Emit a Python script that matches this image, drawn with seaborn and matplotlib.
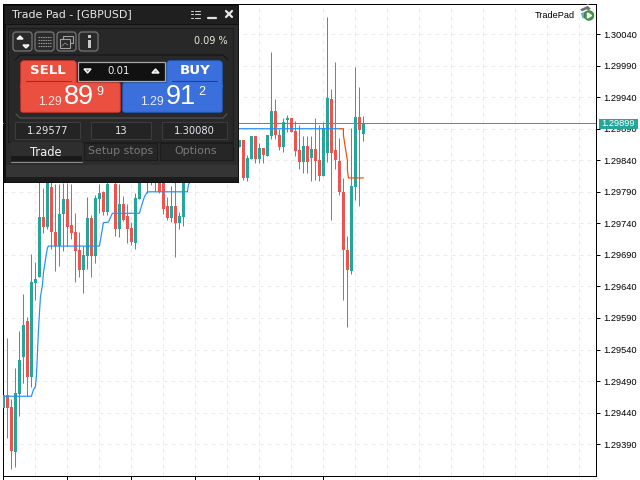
import numpy as np
import pandas as pd
import matplotlib
matplotlib.use("Agg")
import matplotlib.pyplot as plt
import seaborn as sns
from matplotlib.patches import Rectangle, FancyBboxPatch, Polygon, Circle

# candle data, prices in points above 1.29000 (bars 46-58 sit behind the panel)
bars = list(range(46)) + list(range(59, 91))
sides = list("GRRGGGRGGG" "RGRRGGRRRR" "GGRGGRGRRG" "RRRGGGGRGR" "RRGRGG"
             "GRGGRGRG" "GRRGGRRRGR" "GRRGGRRRRR" "GGRG")
body_top = [468, 468, 449, 471, 523, 579, 585, 647, 652, 750,
            750, 817, 798, 726, 755, 779, 779, 737, 726, 698,
            690, 748, 748, 780, 788, 790, 802, 840, 802, 771,
            771, 752, 733, 780, 804, 832, 825, 825, 825, 825,
            817, 767, 767, 767, 752, 817,
            872, 872, 844, 878, 878, 859, 859, 880,
            918, 918, 880, 901, 907, 907, 886, 856, 863, 863,
            858, 858, 840, 891, 939, 937, 856, 839, 790, 698,
            799, 909, 909, 897]
body_bot = [447, 447, 379, 378, 469, 528, 496, 496, 645, 655,
            734, 734, 726, 704, 704, 755, 734, 725, 696, 666,
            666, 688, 688, 688, 779, 758, 758, 817, 731, 731,
            745, 731, 710, 709, 779, 812, 809, 809, 809, 790,
            763, 748, 748, 741, 741, 750,
            861, 812, 812, 842, 842, 842, 848, 847,
            878, 880, 861, 861, 904, 885, 855, 837, 837, 837,
            844, 839, 815, 815, 851, 851, 840, 790, 698, 666,
            664, 798, 888, 882]
high_pts = [468, 558, 462, 511, 569, 628, 592, 691, 679, 825,
            796, 832, 825, 802, 802, 804, 804, 802, 756, 726,
            704, 782, 753, 785, 802, 791, 825, 856, 825, 802,
            783, 771, 742, 788, 832, 848, 840, 840, 840, 840,
            832, 782, 799, 817, 758, 832,
            872, 872, 848, 878, 878, 867, 859, 880,
            1012, 937, 890, 907, 912, 907, 902, 896, 878, 878,
            878, 907, 896, 901, 1067, 953, 996, 875, 812, 720,
            891, 988, 956, 910]
low_pts = [447, 400, 351, 354, 435, 487, 466, 481, 619, 655,
           725, 731, 699, 664, 672, 696, 704, 715, 647, 655,
           630, 668, 655, 677, 756, 753, 753, 806, 720, 718,
           744, 709, 706, 699, 779, 806, 788, 801, 791, 788,
           755, 745, 742, 687, 731, 736,
           861, 809, 807, 842, 836, 836, 836, 847,
           874, 874, 856, 853, 885, 885, 847, 826, 820, 820,
           807, 809, 807, 815, 837, 745, 826, 785, 618, 576,
           660, 777, 767, 871]

# stop lines
blue_x = [0, 7, 7.5, 8, 8.25, 8.5, 8.75, 9.25, 9.75, 10, 10.5, 11, 11.25, 24, 24.5, 25, 26.25, 27.25, 34, 34.75,
          35.25, 36, 46, 46.25, 50, 58.75, 84]
blue_pts = [466, 466, 476, 481, 498, 533, 569, 623, 642, 661, 682, 701, 704, 704, 722, 741, 742, 756, 756, 772,
            782, 790, 790, 801, 850, 890, 890]
orange_x = [84, 85, 85, 85.5, 86, 86, 86.25, 90]
orange_pts = [890, 890, 880, 859, 840, 825, 812, 812]

last_price = 1.29899
y_ticks = [1.30040, 1.29990, 1.29940, 1.29890, 1.29840, 1.29790, 1.29740,
           1.29690, 1.29640, 1.29590, 1.29540, 1.29490, 1.29440, 1.29390]

GREEN = "#26a69a"
RED = "#ef5350"
PX = 0.72  # one pixel in points at dpi 100

sns.set_theme(style="white")
plt.rcParams["font.family"] = ["DejaVu Sans"]

df = pd.DataFrame({"bar": bars, "side": sides, "top": body_top, "bot": body_bot, "high": high_pts, "low": low_pts})
for c in ["top", "bot", "high", "low"]:
    df[c] = 1.29 + df[c] / 1e5
df["color"] = np.where(df["side"] == "G", GREEN, RED)

fig = plt.figure(figsize=(6.4, 4.8), dpi=100, facecolor="white")
ax = fig.add_axes([3.4 / 640, 4.4 / 480, 593 / 640, 472 / 480])

# wicks and bodies
ax.vlines(df["bar"], df["low"], df["high"], colors=df["color"], lw=PX, zorder=2)
ax.bar(df["bar"], df["top"] - df["bot"], bottom=df["bot"],
       width=0.72, color=df["color"], linewidth=0, zorder=3)

# price line and stops
ax.axhline(last_price, color=GREEN, lw=PX, zorder=4)
blue = pd.DataFrame({"x": blue_x, "y": 1.29 + np.array(blue_pts) / 1e5})
orange = pd.DataFrame({"x": orange_x, "y": 1.29 + np.array(orange_pts) / 1e5})
sns.lineplot(data=blue, x="x", y="y", sort=False, estimator=None, color="#1e90ff", lw=0.85, ax=ax, zorder=5)
sns.lineplot(data=orange, x="x", y="y", sort=False, estimator=None, color="#ff4500", lw=0.85, ax=ax, zorder=5)
ax.set(xlabel=None, ylabel=None)

ax.set_xlim(0, 148.25)
ax.set_ylim(1.293402, 1.300883)
ax.yaxis.tick_right()
ax.set_yticks(y_ticks)
ax.set_yticklabels(["%.5f" % v for v in y_ticks], fontsize=6.7, family="Liberation Sans", color="black")
ax.set_xticks(range(0, 81, 16))
ax.set_xticklabels([])
ax.set_xticks(range(0, 148, 8), minor=True)
ax.tick_params(axis="y", which="major", right=True, length=3, width=PX, color="black", pad=2)
ax.tick_params(axis="x", which="major", bottom=True, length=3, width=PX, color="black")
ax.tick_params(axis="x", which="minor", bottom=False, length=0)
ax.grid(True, axis="y", ls=(0, (4, 4)), color="#ebebeb", lw=PX)
ax.grid(True, axis="x", which="both", ls=(0, (4, 4)), color="#ebebeb", lw=PX)
ax.set_axisbelow(True)
for s in ax.spines.values():
    s.set_color("black")
    s.set_linewidth(PX)

# overlay in pixel coordinates for the trade panel
ov = fig.add_axes([0, 0, 1, 1], zorder=10)
ov.set_xlim(0, 640)
ov.set_ylim(480, 0)
ov.axis("off")
ov.patch.set_alpha(0)


def rect(x0, y0, x1, y1, fc, ec="none", lw=0.8, z=1):
    ov.add_patch(Rectangle((x0, y0), x1 - x0, y1 - y0, facecolor=fc, edgecolor=ec, linewidth=lw, zorder=z))


def rbox(x0, y0, x1, y1, fc, ec="none", lw=0.8, r=2, z=1):
    ov.add_patch(FancyBboxPatch((x0 + r, y0 + r), x1 - x0 - 2 * r, y1 - y0 - 2 * r,
                                boxstyle="round,pad=%s,rounding_size=%s" % (r, r),
                                facecolor=fc, edgecolor=ec, linewidth=lw, zorder=z))


def label(x, y, s, size, color="#e8e8e8", ha="center", weight="normal", z=5, fam="DejaVu Sans"):
    ov.text(x, y, s, fontsize=size, color=color, ha=ha, va="center", fontweight=weight, zorder=z, family=fam)


# panel body
rect(4, 5, 239, 183, "#111111")
rect(5, 6, 238, 24, "#1f1f1f")
rect(6, 25, 238, 165, "#2c2c2c")
rect(8, 28, 233, 142, "#282828", ec="#1c1c1c")
rect(6, 165, 238, 177, "#353535")
rect(6, 177, 238, 182, "#1c1c1c")

label(12, 14, "Trade Pad - [GBPUSD]", 7.9, color="#e6e6e6", ha="left")
# window buttons
for yy in [10.5, 14, 17.5]:
    ov.plot([191, 193], [yy, yy], color="#d0d0d0", lw=0.8, zorder=5)
    ov.plot([194.5, 200], [yy, yy], color="#d0d0d0", lw=0.8, zorder=5)
ov.plot([208, 216], [17.5, 17.5], color="#e0e0e0", lw=1.6, zorder=5)
ov.plot([226, 232], [11, 17], color="#e8e8e8", lw=1.6, zorder=5)
ov.plot([226, 232], [17, 11], color="#e8e8e8", lw=1.6, zorder=5)

# small tool buttons
for x0 in [13, 35, 57, 79]:
    rbox(x0, 32, x0 + 19, 51, "#2a2a2a", ec="#777777", lw=0.9, r=3, z=2)
ov.add_patch(Polygon([[17, 39], [20, 36], [23, 39]], fc="#dddddd", zorder=4))
ov.add_patch(Polygon([[23, 45], [26, 48], [29, 45]], fc="#bbbbbb", zorder=4))
for yy in [37, 40, 43, 46]:
    ov.plot([38, 51], [yy, yy], color="#909090", lw=0.8, ls=(0, (1.5, 0.6)), zorder=4)
rect(63, 35.5, 73, 43, "#2a2a2a", ec="#a0a0a0", z=4)
rect(60, 39, 70, 48, "#2a2a2a", ec="#a0a0a0", z=4)
ov.plot([62, 65, 68], [46, 43, 45], color="#909090", lw=0.6, zorder=5)
rect(87.5, 40, 90.5, 48, "#c8c8c8", z=4)
rect(87.5, 35, 90.5, 37.5, "#c8c8c8", z=4)
label(228, 41, "0.09 %", 7.0, color="#e8e8d8", ha="right")

# bracket round the sell/buy block
ov.plot([15, 20, 223, 228], [60, 55, 55, 60], color="#151515", lw=0.8, zorder=2)
ov.plot([16, 20, 223, 227], [114, 118, 118, 114], color="#555555", lw=0.8, zorder=2)

# sell and buy buttons
rbox(21, 61, 76, 90, "#ea4f3f", ec="#ff3b2e", lw=0.9, r=3, z=2)
rbox(21, 83, 120, 112, "#ea4f3f", ec="#ff3b2e", lw=0.9, r=2, z=2)
rect(22, 78, 75, 90, "#ea4f3f", z=3)
rbox(167, 61, 222, 90, "#3b6fdc", ec="#1f6fe8", lw=0.9, r=3, z=2)
rbox(123, 83, 222, 112, "#3b6fdc", ec="#1f6fe8", lw=0.9, r=2, z=2)
rect(168, 78, 221, 90, "#3b6fdc", z=3)
label(48, 71, "SELL", 9.6, color="white", weight="bold")
ov.plot([26, 71], [80.5, 80.5], color="#c0201a", lw=0.8, zorder=5)
label(195, 71, "BUY", 9.6, color="white", weight="bold")
ov.plot([172, 217], [80.5, 80.5], color="#1a3fb0", lw=0.8, zorder=5)
rect(78, 62, 165, 81, "#111111", ec="#a8a8a8", lw=0.9, z=4)
label(119, 71.5, "0.01", 7.4, color="#f0f0f0")
ov.add_patch(Polygon([[84, 69], [91, 69], [87.5, 73]], fc="#777777", zorder=5))
ov.add_patch(Polygon([[152, 73], [159, 73], [155.5, 69]], fc="#b0b0b0", zorder=5))

label(61.5, 102, "1.29", 8.8, color="#fbe4e0", ha="right", fam="Liberation Sans")
label(64, 97, "89", 19.5, color="white", ha="left", fam="Liberation Sans")
label(99.5, 92, "9", 9, color="white", fam="Liberation Sans")
label(163.5, 102, "1.29", 8.8, color="#e4ecfb", ha="right", fam="Liberation Sans")
label(166, 97, "91", 19.5, color="white", ha="left", fam="Liberation Sans")
label(201.5, 92, "2", 9, color="white", fam="Liberation Sans")

# info boxes
for x0, x1, s in [(15, 80, "1.29577"), (91, 151, "13"), (162, 227, "1.30080")]:
    rect(x0, 122, x1, 139, "#242424", ec="#3c3c3c", z=2)
    label((x0 + x1) / 2, 130.5, s, 7.2, color="#e4e8f0")

# tabs
rect(11, 142, 82, 162, "#2e2e2e", z=2)
rect(11, 156, 82, 161, "#1a1a1a", z=3)
ov.plot([11, 82], [162, 162], color="#909090", lw=0.7, zorder=4)
rect(84, 143, 157, 160, "#262626", ec="#1c1c1c", z=2)
rect(160, 143, 233, 160, "#262626", ec="#1c1c1c", z=2)
label(46, 152, "Trade", 8.3, color="#f0f0f0")
label(121, 151, "Setup stops", 7.9, color="#7a7a7a")
label(196, 151, "Options", 7.9, color="#7a7a7a")

# last price tag
rect(599, 118.5, 638, 128.5, GREEN, z=3)
label(618.5, 123.8, "1.29899", 6.7, color="white", fam="Liberation Sans")

# corner label and icon
label(575, 15, "TradePad", 6.6, color="black", ha="right", fam="Liberation Sans")
ov.add_patch(Polygon([[579, 9], [588, 5], [592, 9], [583, 14]], fc="#707070", zorder=3))
ov.add_patch(Polygon([[580, 13], [587, 10], [588, 19], [582, 19]], fc="#6fa8dc", zorder=3))
ov.add_patch(Circle((589, 15.5), 4.8, fc="#3f9f3f", ec="#2f6f2f", lw=0.5, zorder=4))
ov.add_patch(Polygon([[587.5, 13], [587.5, 18], [591.5, 15.5]], fc="white", zorder=5))

fig.savefig("out.png", dpi=100, facecolor="white")
